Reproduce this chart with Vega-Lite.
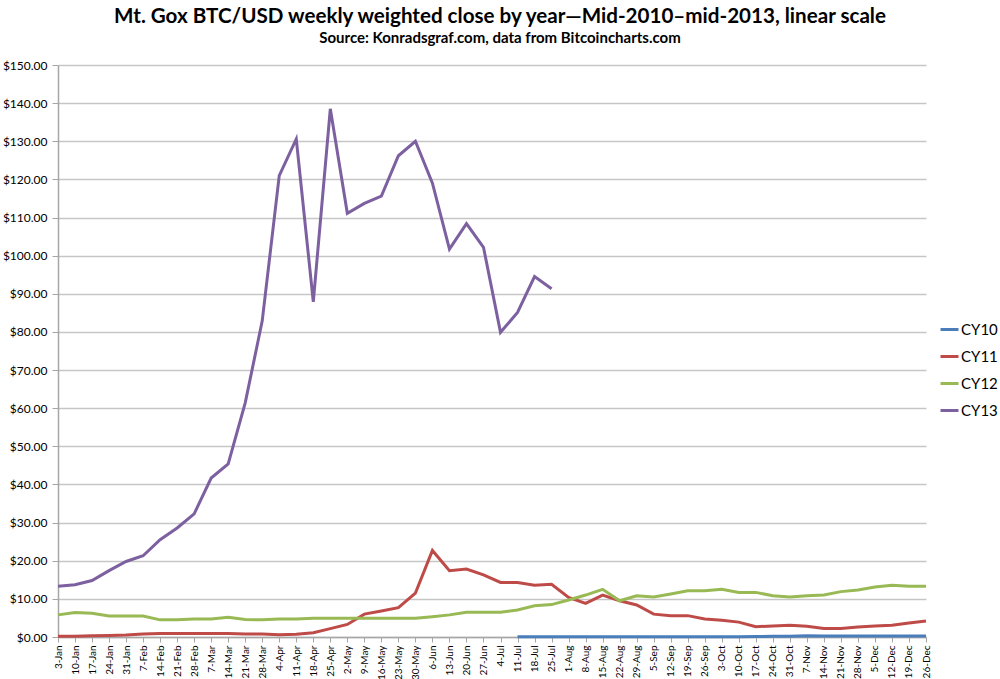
{
  "$schema": "https://vega.github.io/schema/vega-lite/v6.json",
  "width": 868,
  "height": 572,
  "autosize": {"type": "none"},
  "padding": {"left": 58, "top": 65, "right": 74, "bottom": 42},
  "background": "white",
  "title": {
    "text": "Mt. Gox BTC/USD weekly weighted close by year\u2014Mid-2010\u2013mid-2013, linear scale",
    "subtitle": "Source: Konradsgraf.com, data from Bitcoincharts.com",
    "font": "Lato",
    "fontSize": 20.6,
    "fontWeight": "bold",
    "color": "black",
    "subtitleFont": "Lato",
    "subtitleFontSize": 15,
    "subtitleFontWeight": "bold",
    "subtitleColor": "black",
    "subtitlePadding": 3,
    "anchor": "middle",
    "dx": 8,
    "offset": 13
  },
  "config": {
    "view": {"stroke": null},
    "axis": {"labelFont": "Lato", "labelColor": "black"}
  },
  "data": {
    "values": [
      {"week": "3-Jan", "series": "CY11", "price": 0.2},
      {"week": "10-Jan", "series": "CY11", "price": 0.2},
      {"week": "17-Jan", "series": "CY11", "price": 0.3},
      {"week": "24-Jan", "series": "CY11", "price": 0.4},
      {"week": "31-Jan", "series": "CY11", "price": 0.5},
      {"week": "7-Feb", "series": "CY11", "price": 0.8},
      {"week": "14-Feb", "series": "CY11", "price": 0.9},
      {"week": "21-Feb", "series": "CY11", "price": 0.9},
      {"week": "28-Feb", "series": "CY11", "price": 0.9},
      {"week": "7-Mar", "series": "CY11", "price": 0.9},
      {"week": "14-Mar", "series": "CY11", "price": 0.9},
      {"week": "21-Mar", "series": "CY11", "price": 0.8},
      {"week": "28-Mar", "series": "CY11", "price": 0.8},
      {"week": "4-Apr", "series": "CY11", "price": 0.6},
      {"week": "11-Apr", "series": "CY11", "price": 0.7},
      {"week": "18-Apr", "series": "CY11", "price": 1.1},
      {"week": "25-Apr", "series": "CY11", "price": 2.2},
      {"week": "2-May", "series": "CY11", "price": 3.3},
      {"week": "9-May", "series": "CY11", "price": 6.0},
      {"week": "16-May", "series": "CY11", "price": 6.8},
      {"week": "23-May", "series": "CY11", "price": 7.7},
      {"week": "30-May", "series": "CY11", "price": 11.5},
      {"week": "6-Jun", "series": "CY11", "price": 22.7},
      {"week": "13-Jun", "series": "CY11", "price": 17.4},
      {"week": "20-Jun", "series": "CY11", "price": 17.8},
      {"week": "27-Jun", "series": "CY11", "price": 16.3},
      {"week": "4-Jul", "series": "CY11", "price": 14.3},
      {"week": "11-Jul", "series": "CY11", "price": 14.3},
      {"week": "18-Jul", "series": "CY11", "price": 13.6},
      {"week": "25-Jul", "series": "CY11", "price": 13.8},
      {"week": "1-Aug", "series": "CY11", "price": 10.4},
      {"week": "8-Aug", "series": "CY11", "price": 8.8},
      {"week": "15-Aug", "series": "CY11", "price": 11.0},
      {"week": "22-Aug", "series": "CY11", "price": 9.5},
      {"week": "29-Aug", "series": "CY11", "price": 8.4},
      {"week": "5-Sep", "series": "CY11", "price": 6.0},
      {"week": "12-Sep", "series": "CY11", "price": 5.6},
      {"week": "19-Sep", "series": "CY11", "price": 5.6},
      {"week": "26-Sep", "series": "CY11", "price": 4.7},
      {"week": "3-Oct", "series": "CY11", "price": 4.4},
      {"week": "10-Oct", "series": "CY11", "price": 3.9},
      {"week": "17-Oct", "series": "CY11", "price": 2.7},
      {"week": "24-Oct", "series": "CY11", "price": 2.9},
      {"week": "31-Oct", "series": "CY11", "price": 3.1},
      {"week": "7-Nov", "series": "CY11", "price": 2.8},
      {"week": "14-Nov", "series": "CY11", "price": 2.2},
      {"week": "21-Nov", "series": "CY11", "price": 2.2},
      {"week": "28-Nov", "series": "CY11", "price": 2.6},
      {"week": "5-Dec", "series": "CY11", "price": 2.9},
      {"week": "12-Dec", "series": "CY11", "price": 3.1},
      {"week": "19-Dec", "series": "CY11", "price": 3.7},
      {"week": "26-Dec", "series": "CY11", "price": 4.2},

      {"week": "11-Jul", "series": "CY10", "price": 0.06},
      {"week": "18-Jul", "series": "CY10", "price": 0.07},
      {"week": "25-Jul", "series": "CY10", "price": 0.06},
      {"week": "1-Aug", "series": "CY10", "price": 0.06},
      {"week": "8-Aug", "series": "CY10", "price": 0.07},
      {"week": "15-Aug", "series": "CY10", "price": 0.07},
      {"week": "22-Aug", "series": "CY10", "price": 0.07},
      {"week": "29-Aug", "series": "CY10", "price": 0.06},
      {"week": "5-Sep", "series": "CY10", "price": 0.06},
      {"week": "12-Sep", "series": "CY10", "price": 0.06},
      {"week": "19-Sep", "series": "CY10", "price": 0.06},
      {"week": "26-Sep", "series": "CY10", "price": 0.06},
      {"week": "3-Oct", "series": "CY10", "price": 0.06},
      {"week": "10-Oct", "series": "CY10", "price": 0.06},
      {"week": "17-Oct", "series": "CY10", "price": 0.1},
      {"week": "24-Oct", "series": "CY10", "price": 0.19},
      {"week": "31-Oct", "series": "CY10", "price": 0.19},
      {"week": "7-Nov", "series": "CY10", "price": 0.3},
      {"week": "14-Nov", "series": "CY10", "price": 0.27},
      {"week": "21-Nov", "series": "CY10", "price": 0.26},
      {"week": "28-Nov", "series": "CY10", "price": 0.28},
      {"week": "5-Dec", "series": "CY10", "price": 0.23},
      {"week": "12-Dec", "series": "CY10", "price": 0.23},
      {"week": "19-Dec", "series": "CY10", "price": 0.25},
      {"week": "26-Dec", "series": "CY10", "price": 0.27},

      {"week": "3-Jan", "series": "CY12", "price": 5.8},
      {"week": "10-Jan", "series": "CY12", "price": 6.4},
      {"week": "17-Jan", "series": "CY12", "price": 6.2},
      {"week": "24-Jan", "series": "CY12", "price": 5.5},
      {"week": "31-Jan", "series": "CY12", "price": 5.5},
      {"week": "7-Feb", "series": "CY12", "price": 5.5},
      {"week": "14-Feb", "series": "CY12", "price": 4.5},
      {"week": "21-Feb", "series": "CY12", "price": 4.5},
      {"week": "28-Feb", "series": "CY12", "price": 4.7},
      {"week": "7-Mar", "series": "CY12", "price": 4.7},
      {"week": "14-Mar", "series": "CY12", "price": 5.2},
      {"week": "21-Mar", "series": "CY12", "price": 4.6},
      {"week": "28-Mar", "series": "CY12", "price": 4.5},
      {"week": "4-Apr", "series": "CY12", "price": 4.7},
      {"week": "11-Apr", "series": "CY12", "price": 4.7},
      {"week": "18-Apr", "series": "CY12", "price": 4.9},
      {"week": "25-Apr", "series": "CY12", "price": 4.9},
      {"week": "2-May", "series": "CY12", "price": 4.9},
      {"week": "9-May", "series": "CY12", "price": 4.9},
      {"week": "16-May", "series": "CY12", "price": 4.9},
      {"week": "23-May", "series": "CY12", "price": 4.9},
      {"week": "30-May", "series": "CY12", "price": 4.9},
      {"week": "6-Jun", "series": "CY12", "price": 5.3},
      {"week": "13-Jun", "series": "CY12", "price": 5.8},
      {"week": "20-Jun", "series": "CY12", "price": 6.5},
      {"week": "27-Jun", "series": "CY12", "price": 6.5},
      {"week": "4-Jul", "series": "CY12", "price": 6.5},
      {"week": "11-Jul", "series": "CY12", "price": 7.1},
      {"week": "18-Jul", "series": "CY12", "price": 8.2},
      {"week": "25-Jul", "series": "CY12", "price": 8.5},
      {"week": "1-Aug", "series": "CY12", "price": 9.7},
      {"week": "8-Aug", "series": "CY12", "price": 11.0},
      {"week": "15-Aug", "series": "CY12", "price": 12.5},
      {"week": "22-Aug", "series": "CY12", "price": 9.5},
      {"week": "29-Aug", "series": "CY12", "price": 10.8},
      {"week": "5-Sep", "series": "CY12", "price": 10.5},
      {"week": "12-Sep", "series": "CY12", "price": 11.3},
      {"week": "19-Sep", "series": "CY12", "price": 12.1},
      {"week": "26-Sep", "series": "CY12", "price": 12.1},
      {"week": "3-Oct", "series": "CY12", "price": 12.5},
      {"week": "10-Oct", "series": "CY12", "price": 11.7},
      {"week": "17-Oct", "series": "CY12", "price": 11.7},
      {"week": "24-Oct", "series": "CY12", "price": 10.8},
      {"week": "31-Oct", "series": "CY12", "price": 10.5},
      {"week": "7-Nov", "series": "CY12", "price": 10.8},
      {"week": "14-Nov", "series": "CY12", "price": 11.0},
      {"week": "21-Nov", "series": "CY12", "price": 11.9},
      {"week": "28-Nov", "series": "CY12", "price": 12.3},
      {"week": "5-Dec", "series": "CY12", "price": 13.1},
      {"week": "12-Dec", "series": "CY12", "price": 13.6},
      {"week": "19-Dec", "series": "CY12", "price": 13.3},
      {"week": "26-Dec", "series": "CY12", "price": 13.3},

      {"week": "3-Jan", "series": "CY13", "price": 13.3},
      {"week": "10-Jan", "series": "CY13", "price": 13.7},
      {"week": "17-Jan", "series": "CY13", "price": 14.8},
      {"week": "24-Jan", "series": "CY13", "price": 17.4},
      {"week": "31-Jan", "series": "CY13", "price": 19.8},
      {"week": "7-Feb", "series": "CY13", "price": 21.3},
      {"week": "14-Feb", "series": "CY13", "price": 25.5},
      {"week": "21-Feb", "series": "CY13", "price": 28.6},
      {"week": "28-Feb", "series": "CY13", "price": 32.3},
      {"week": "7-Mar", "series": "CY13", "price": 41.7},
      {"week": "14-Mar", "series": "CY13", "price": 45.4},
      {"week": "21-Mar", "series": "CY13", "price": 61.4},
      {"week": "28-Mar", "series": "CY13", "price": 82.9},
      {"week": "4-Apr", "series": "CY13", "price": 121.0},
      {"week": "11-Apr", "series": "CY13", "price": 130.6},
      {"week": "18-Apr", "series": "CY13", "price": 87.9},
      {"week": "25-Apr", "series": "CY13", "price": 138.5},
      {"week": "2-May", "series": "CY13", "price": 111.1},
      {"week": "9-May", "series": "CY13", "price": 113.7},
      {"week": "16-May", "series": "CY13", "price": 115.6},
      {"week": "23-May", "series": "CY13", "price": 126.2},
      {"week": "30-May", "series": "CY13", "price": 130.0},
      {"week": "6-Jun", "series": "CY13", "price": 119.0},
      {"week": "13-Jun", "series": "CY13", "price": 101.7},
      {"week": "20-Jun", "series": "CY13", "price": 108.4},
      {"week": "27-Jun", "series": "CY13", "price": 102.2},
      {"week": "4-Jul", "series": "CY13", "price": 79.9},
      {"week": "11-Jul", "series": "CY13", "price": 85.1},
      {"week": "18-Jul", "series": "CY13", "price": 94.5},
      {"week": "25-Jul", "series": "CY13", "price": 91.3}
    ]
  },
  "mark": {"type": "line", "strokeWidth": 3, "strokeJoin": "miter", "strokeCap": "butt"},
  "encoding": {
    "x": {
      "field": "week",
      "type": "ordinal",
      "sort": null,
      "scale": {"type": "point", "padding": 0},
      "axis": {
        "title": null,
        "labelAngle": -90,
        "labelFontSize": 10,
        "labelPadding": 3,
        "tickSize": 5,
        "tickColor": "#a6a6a6",
        "domainColor": "#a6a6a6",
        "domainWidth": 1.5,
        "grid": false
      }
    },
    "y": {
      "field": "price",
      "type": "quantitative",
      "scale": {"domain": [0, 150], "nice": false},
      "axis": {
        "title": null,
        "values": [0, 10, 20, 30, 40, 50, 60, 70, 80, 90, 100, 110, 120, 130, 140, 150],
        "format": "$.2f",
        "labelFontSize": 12,
        "labelPadding": 5,
        "tickSize": 6,
        "ticks": true,
        "tickColor": "#a6a6a6",
        "domainColor": "#a6a6a6",
        "domainWidth": 1.5,
        "grid": true,
        "gridColor": "#c6c6c6",
        "gridWidth": 1.5
      }
    },
    "color": {
      "field": "series",
      "type": "nominal",
      "scale": {
        "domain": ["CY10", "CY11", "CY12", "CY13"],
        "range": ["#4a7ebb", "#be4b48", "#98b954", "#7d60a0"]
      },
      "legend": {
        "title": null,
        "orient": "none",
        "legendX": 881,
        "legendY": 254,
        "symbolType": "stroke",
        "symbolSize": 324,
        "symbolStrokeWidth": 3,
        "labelFont": "Lato",
        "labelFontSize": 15,
        "labelColor": "black",
        "rowPadding": 8,
        "labelOffset": 1
      }
    }
  }
}
